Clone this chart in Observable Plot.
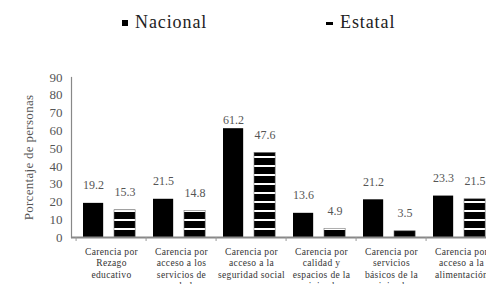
<!DOCTYPE html>
<html>
<head>
<meta charset="utf-8">
<script src="https://cdn.jsdelivr.net/npm/d3@7"></script>
<script src="https://cdn.jsdelivr.net/npm/@observablehq/plot@0.6"></script>
<style>
  html, body { margin: 0; padding: 0; background: #fff; overflow: hidden; width: 486px; height: 284px; }
  #legend { position: relative; height: 50px; font-family: 'Liberation Serif', serif; font-size: 18px; letter-spacing: 0.9px; color: #222; }
  #legend .item { position: absolute; top: 12px; line-height: 20px; }
  #legend .sw { position: absolute; background: #000; }
  svg { overflow: hidden; display: block; }
  #chart g[aria-label="x-axis tick label"] text { letter-spacing: 0.35px; }
  #chart g[aria-label="y-axis label"] text { letter-spacing: 0.3px; }
</style>
</head>
<body>
<div id="legend">
  <span class="sw" style="left:122px;top:20px;width:6px;height:6px;"></span>
  <span class="item" style="left:135px;">Nacional</span>
  <span class="sw" style="left:326px;top:22px;width:7px;height:3px;"></span>
  <span class="item" style="left:340px;">Estatal</span>
</div>
<div id="chart"></div>
<script>
const categories = [
  "Carencia por\nRezago\neducativo",
  "Carencia por\nacceso a los\nservicios de\nsalud",
  "Carencia por\nacceso a la\nseguridad social",
  "Carencia por\ncalidad y\nespacios de la\nvivienda",
  "Carencia por\nservicios\nbásicos de la\nvivienda",
  "Carencia por\nacceso a la\nalimentación"
];
const nacional = [19.2, 21.5, 61.2, 13.6, 21.2, 23.3];
const estatal = [15.3, 14.8, 47.6, 4.9, 3.5, 21.5];
const yTicks = [0, 10, 20, 30, 40, 50, 60, 70, 80, 90];

const nac = categories.map((c, i) => ({category: c, value: nacional[i]}));
const est = categories.map((c, i) => ({category: c, value: estatal[i]}));

const width = 486, marginLeft = 73, marginRight = -12;
const bw = (width - marginLeft - marginRight) / categories.length;

const serif = "'Liberation Serif', serif";

const svg = Plot.plot({
  width,
  height: 234,
  marginLeft,
  marginRight,
  marginTop: 27,
  marginBottom: 47,
  style: {fontFamily: serif, background: "#fff", overflow: "hidden"},
  x: {domain: categories, padding: 0},
  y: {domain: [0, 90], ticks: yTicks},
  marks: [
    Plot.frame({anchor: "left", stroke: "#888", strokeWidth: 1.2, dx: -2}),
    Plot.barY(nac, {x: "category", y: "value", fill: "#000", insetLeft: 7, insetRight: bw - 28}),
    Plot.barY(est, {x: "category", y: "value", fill: "url(#stripes)", stroke: "#777", strokeWidth: 0.6, insetLeft: 38, insetRight: bw - 60}),
    Plot.ruleY([0], {stroke: "#888", strokeWidth: 2, insetLeft: -2}),
    Plot.ruleX(categories, {x: d => d, y1: 0, y2: 0, dx: -bw / 2, insetBottom: -4, stroke: "#999"}),
    Plot.ruleX([categories[categories.length - 1]], {x: d => d, y1: 0, y2: 0, dx: bw / 2, insetBottom: -4, stroke: "#999"}),
    Plot.text(nac.filter(d => d.value < 60), {x: "category", y: "value", text: d => d.value.toFixed(1), dx: 17.5 - bw / 2, dy: -18, fontSize: 12, fill: "#555"}),
    Plot.text(nac.filter(d => d.value >= 60), {x: "category", y: "value", text: d => d.value.toFixed(1), dx: 17.5 - bw / 2, dy: -9, fontSize: 12, fill: "#555"}),
    Plot.text(est, {x: "category", y: "value", text: d => d.value.toFixed(1), dx: 49 - bw / 2, dy: -18, fontSize: 12, fill: "#555"}),
    Plot.axisY({ticks: yTicks, tickSize: 0, tickPadding: 11, fontSize: 13, fill: "#555",
      label: "Porcentaje de personas", labelAnchor: "center", labelArrow: "none", labelOffset: 50}),
    Plot.axisX({tickSize: 0, tickPadding: 9.5, fontSize: 9.5, fill: "#333", lineHeight: 1.2, label: null})
  ]
});

const ns = "http://www.w3.org/2000/svg";
const defs = document.createElementNS(ns, "defs");
const pat = document.createElementNS(ns, "pattern");
pat.setAttribute("id", "stripes");
pat.setAttribute("patternUnits", "userSpaceOnUse");
pat.setAttribute("width", "10");
pat.setAttribute("height", "9");
const r1 = document.createElementNS(ns, "rect");
r1.setAttribute("width", "10"); r1.setAttribute("height", "9"); r1.setAttribute("fill", "#000");
const r2 = document.createElementNS(ns, "rect");
r2.setAttribute("y", "7"); r2.setAttribute("width", "10"); r2.setAttribute("height", "2"); r2.setAttribute("fill", "#fff");
pat.appendChild(r1); pat.appendChild(r2);
defs.appendChild(pat);
svg.insertBefore(defs, svg.firstChild);

document.getElementById("chart").appendChild(svg);
</script>
</body>
</html>
